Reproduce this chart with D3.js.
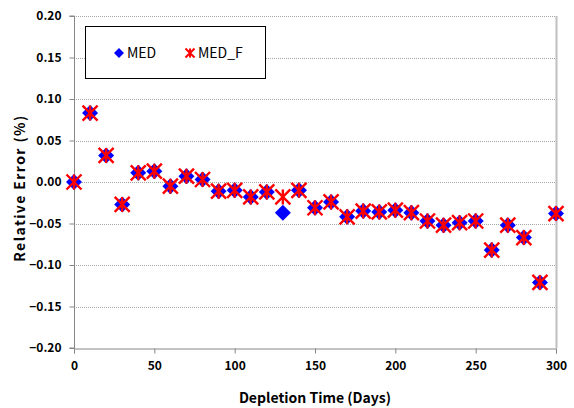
<!DOCTYPE html>
<html>
<head>
<meta charset="utf-8">
<script src="https://cdn.jsdelivr.net/npm/d3@7"></script>
<style>
  body { margin: 0; background: #fff; }
  text { font-family: "Noto Sans CJK KR", "Noto Sans", sans-serif; }
</style>
</head>
<body>
<div id="chart"></div>
<script>
var svgWidth = 574;
var svgHeight = 408;

// depletion time (days)
var days = [0, 10, 20, 30, 40, 50, 60, 70, 80, 90, 100, 110, 120, 130, 140, 150,
    160, 170, 180, 190, 200, 210, 220, 230, 240, 250, 260, 270, 280, 290, 300];
// relative error (%)
var med = [0.000, 0.083, 0.032, -0.027, 0.011, 0.013, -0.005, 0.007, 0.003, -0.011,
    -0.010, -0.018, -0.012, -0.037, -0.010, -0.031, -0.024, -0.042, -0.035, -0.036,
    -0.034, -0.037, -0.047, -0.052, -0.049, -0.047, -0.082, -0.052, -0.067, -0.121, -0.038];
var medF = [0.000, 0.083, 0.032, -0.027, 0.011, 0.013, -0.005, 0.007, 0.003, -0.011,
    -0.010, -0.018, -0.012, -0.018, -0.010, -0.031, -0.024, -0.042, -0.035, -0.036,
    -0.034, -0.037, -0.047, -0.052, -0.049, -0.047, -0.082, -0.052, -0.067, -0.121, -0.038];
var xTicks = [0, 50, 100, 150, 200, 250, 300];
var yTicks = [-0.20, -0.15, -0.10, -0.05, 0.00, 0.05, 0.10, 0.15, 0.20];

var svg = d3.select("#chart")
    .append("svg")
    .attr("width", svgWidth)
    .attr("height", svgHeight);

var xScale = d3.scaleLinear().domain([0, 300]).range([74, 556]);
var yScale = d3.scaleLinear().domain([-0.2, 0.2]).range([348, 16]);

// gridlines
svg.append("g")
    .selectAll("line")
    .data(yTicks.filter(d => d > -0.2))
    .enter()
    .append("line")
    .attr("x1", xScale(0))
    .attr("x2", xScale(300))
    .attr("y1", d => Math.round(yScale(d)) + 0.5)
    .attr("y2", d => Math.round(yScale(d)) + 0.5)
    .attr("stroke", "#a6a6a6")
    .attr("stroke-width", 1)
    .attr("stroke-dasharray", "1,1");

// right border
svg.append("line")
    .attr("x1", xScale(300) + 0.5).attr("x2", xScale(300) + 0.5)
    .attr("y1", yScale(0.2)).attr("y2", yScale(-0.2))
    .attr("stroke", "#bfbfbf")
    .attr("stroke-width", 2);

// axes
var bottomAxis = d3.axisBottom(xScale).tickValues(xTicks).tickSize(5).tickPadding(8);
var leftAxis = d3.axisLeft(yScale).tickValues(yTicks).tickSize(5).tickPadding(8)
    .tickFormat(d3.format(".2f"));

var xAxis = svg.append("g")
    .attr("transform", `translate(0, ${Math.round(yScale(-0.2)) + 0.5})`)
    .call(bottomAxis);
var yAxis = svg.append("g")
    .attr("transform", `translate(${Math.round(xScale(0)) + 0.5}, 0)`)
    .call(leftAxis);

[xAxis, yAxis].forEach(function (ax) {
    ax.select(".domain").attr("stroke", "#868686");
    ax.selectAll(".tick line").attr("stroke", "#868686");
    ax.selectAll(".tick text")
        .attr("fill", "#000")
        .attr("font-size", "12px")
        .attr("font-weight", "bold")
        .style("font-family", '"Noto Sans CJK KR", sans-serif');
});
yAxis.select(".domain").attr("d", `M-5,${yScale(0.2)}H0V${yScale(-0.2)}H-5`);

// axis titles
svg.append("text")
    .attr("x", 315)
    .attr("y", 403)
    .attr("text-anchor", "middle")
    .attr("font-size", "14px")
    .attr("font-weight", "bold")
    .text("Depletion Time (Days)");

svg.append("text")
    .attr("transform", "rotate(-90)")
    .attr("x", -188)
    .attr("y", 25)
    .attr("text-anchor", "middle")
    .attr("font-size", "14px")
    .attr("font-weight", "bold")
    .attr("letter-spacing", "1.4px")
    .text("Relative Error  (%)");

// markers
function diamond(g, cx, cy, r) {
    g.append("path")
        .attr("d", `M${cx},${cy - r}L${cx + r},${cy}L${cx},${cy + r}L${cx - r},${cy}Z`)
        .attr("fill", "#0000ff");
}
function star(g, cx, cy, r, w) {
    g.append("path")
        .attr("d", `M${cx - r},${cy - r}L${cx + r},${cy + r}M${cx - r},${cy + r}L${cx + r},${cy - r}` +
            `M${cx},${cy - r}L${cx},${cy + r}`)
        .attr("stroke", "#ff0000")
        .attr("stroke-width", w)
        .attr("fill", "none");
}

var pointsGroup = svg.append("g");
days.forEach(function (d, i) {
    diamond(pointsGroup, xScale(d), yScale(med[i]), 8);
});
days.forEach(function (d, i) {
    star(pointsGroup, xScale(d), yScale(medF[i]), 7.5, 2.4);
});

// legend
svg.append("rect")
    .attr("x", 85.5).attr("y", 26.5)
    .attr("width", 180).attr("height", 52)
    .attr("fill", "#fff")
    .attr("stroke", "#000")
    .attr("stroke-width", 1);

diamond(svg, 119, 53, 5);
svg.append("text")
    .attr("x", 127).attr("y", 58)
    .attr("font-size", "14px")
    .text("MED");
star(svg, 190, 53, 4.5, 2);
svg.append("text")
    .attr("x", 198).attr("y", 58)
    .attr("font-size", "14px")
    .text("MED_F");
</script>
</body>
</html>
